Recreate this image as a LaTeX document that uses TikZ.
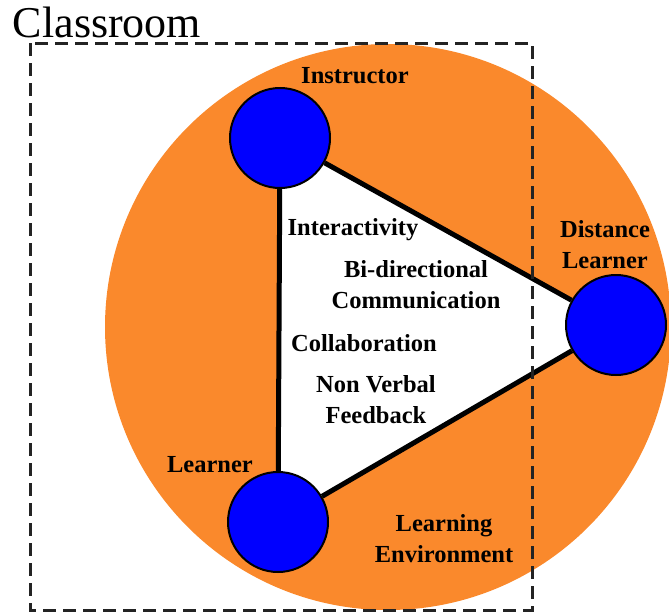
\documentclass[tikz,border=0pt]{standalone}
\usepackage{fontspec}
\setmainfont{Liberation Serif}
\usetikzlibrary{backgrounds}
\definecolor{envorange}{RGB}{250,137,44}
\definecolor{dashgray}{RGB}{35,35,35}
\begin{document}
\begin{tikzpicture}[x=1pt,y=-1pt,
    actor/.style={circle, fill=blue, draw=black, line width=2pt, minimum size=100pt, inner sep=0pt},
    link/.style={line width=5pt, black},
    lbl/.style={font=\fontsize{24.5}{31}\selectfont\bfseries, align=center, inner sep=0pt},
    room/.style={dashgray, line width=3pt, dash pattern=on 13pt off 7pt}]
    \useasboundingbox (0,0) rectangle (669,613);

    \node[actor] (instr) at (280,138) {};
    \node[actor] (dist) at (616,325) {};
    \node[actor] (lrn) at (278,522) {};

    \begin{scope}[on background layer]
    \fill[envorange] (388,327) circle (283);
    \fill[white] (instr.center) -- (dist.center) -- (lrn.center) -- cycle;
    \end{scope}

    \draw[link] (instr) -- (dist);
    \draw[link] (dist) -- (lrn);
    \draw[link] (lrn) -- (instr);

    \node[lbl] (linstr) at (355,76) {Instructor};
    \node[lbl] (ldist) at (605,245) {Distance\\Learner};
    \node[lbl] (llrn) at (210,465) {Learner};
    \node[lbl] (lenv) at (444,539) {Learning\\Environment};

    \node[lbl] (inter) at (353,230) {Interactivity};
    \node[lbl] (bidir) at (416,285) {Bi-directional\\Communication};
    \node[lbl] (collab) at (364,343) {Collaboration};
    \node[lbl] (nonverb) at (376,400) {Non Verbal\\Feedback};

    \node[font=\fontsize{44}{48}\selectfont, inner sep=0pt] (title) at (107,22) {Classroom};
    \draw[room] (30,43) rectangle (532,610);
\end{tikzpicture}
\end{document}
